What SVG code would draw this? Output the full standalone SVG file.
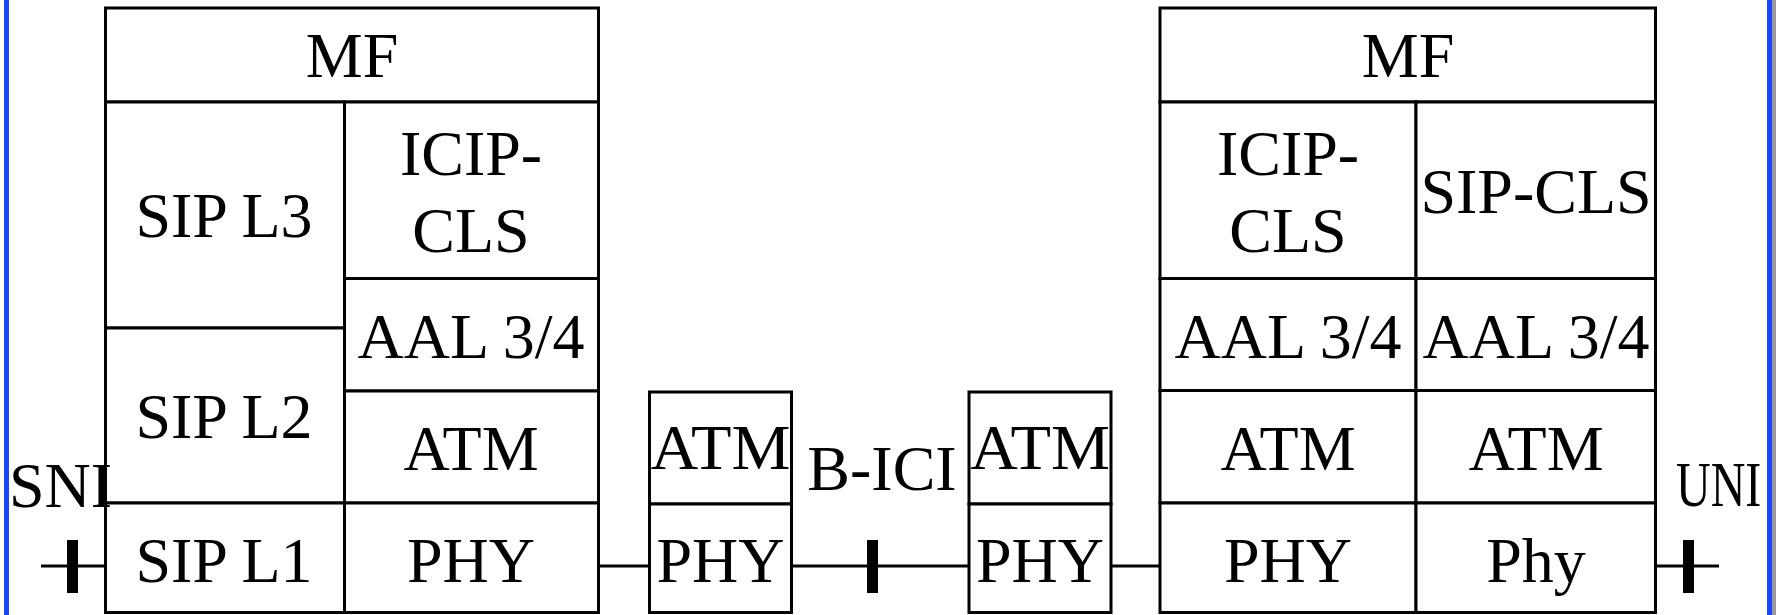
<svg xmlns="http://www.w3.org/2000/svg" width="1776" height="615" viewBox="0 0 1776 615">
<style>
.c{fill:#fff;stroke:#000;stroke-width:3}
.t{font-family:"Liberation Serif","Times New Roman",serif;font-size:64px;fill:#000;text-anchor:middle}
.ts{font-family:"Liberation Serif","Times New Roman",serif;font-size:64px;fill:#000}
.ln{stroke:#000;stroke-width:3;fill:none}
.bar{fill:#000}
</style>
<rect x="0" y="0" width="1776" height="615" fill="#fff"/>
<g id="connectors">
<line class="ln" x1="41" y1="566" x2="105" y2="566"/>
<line class="ln" x1="598" y1="566" x2="649" y2="566"/>
<line class="ln" x1="792" y1="566" x2="969" y2="566"/>
<line class="ln" x1="1111" y1="566" x2="1160" y2="566"/>
<line class="ln" x1="1655" y1="566" x2="1719" y2="566"/>
<rect class="bar" x="67" y="540" width="11" height="53"/>
<rect class="bar" x="867" y="540" width="11" height="53"/>
<rect class="bar" x="1683" y="540" width="11" height="53"/>
</g>
<g id="left-stack">
<g id="l-mf"><rect class="c" x="105.5" y="8" width="493" height="94"/><text class="t" x="352" y="77">MF</text></g>
<g id="l-sipl3"><rect class="c" x="105.5" y="102" width="239" height="226"/><text class="t" x="224" y="237">SIP L3</text></g>
<g id="l-icip"><rect class="c" x="344.5" y="102" width="254" height="176.5"/><text class="t" x="471" y="175">ICIP-</text><text class="t" x="471" y="252">CLS</text></g>
<g id="l-aal"><rect class="c" x="344.5" y="278.5" width="254" height="112.5"/><text class="t" x="471" y="358">AAL 3/4</text></g>
<g id="l-sipl2"><rect class="c" x="105.5" y="328" width="239" height="175"/><text class="t" x="224" y="438">SIP L2</text></g>
<g id="l-atm"><rect class="c" x="344.5" y="391" width="254" height="112"/><text class="t" x="471" y="470">ATM</text></g>
<g id="l-sipl1"><rect class="c" x="105.5" y="503" width="239" height="109.5"/><text class="t" x="224" y="582">SIP L1</text></g>
<g id="l-phy"><rect class="c" x="344.5" y="503" width="254" height="109.5"/><text class="t" x="471" y="582">PHY</text></g>
</g>
<g id="mid1">
<rect class="c" x="649.5" y="392" width="142" height="112"/><text class="t" x="720.5" y="469" textLength="140" lengthAdjust="spacingAndGlyphs">ATM</text>
<rect class="c" x="649.5" y="504" width="142" height="108.5"/><text class="t" x="720.5" y="582">PHY</text>
</g>
<g id="mid2">
<rect class="c" x="969" y="392" width="142" height="112"/><text class="t" x="1040" y="469" textLength="140" lengthAdjust="spacingAndGlyphs">ATM</text>
<rect class="c" x="969" y="504" width="142" height="108.5"/><text class="t" x="1040" y="582">PHY</text>
</g>
<g id="right-stack">
<g id="r-mf"><rect class="c" x="1160" y="8" width="495.5" height="94"/><text class="t" x="1408" y="77">MF</text></g>
<g id="r-icip"><rect class="c" x="1160" y="102" width="256" height="176.5"/><text class="t" x="1288" y="175">ICIP-</text><text class="t" x="1288" y="252">CLS</text></g>
<g id="r-sipcls"><rect class="c" x="1416" y="102" width="239.5" height="176.5"/><text class="t" x="1536" y="213">SIP-CLS</text></g>
<g id="r-aal1"><rect class="c" x="1160" y="278.5" width="256" height="112"/><text class="t" x="1288" y="358">AAL 3/4</text></g>
<g id="r-aal2"><rect class="c" x="1416" y="278.5" width="239.5" height="112"/><text class="t" x="1536" y="358">AAL 3/4</text></g>
<g id="r-atm1"><rect class="c" x="1160" y="390.5" width="256" height="112.5"/><text class="t" x="1288" y="470">ATM</text></g>
<g id="r-atm2"><rect class="c" x="1416" y="390.5" width="239.5" height="112.5"/><text class="t" x="1536" y="470">ATM</text></g>
<g id="r-phy1"><rect class="c" x="1160" y="503" width="256" height="109.5"/><text class="t" x="1288" y="582">PHY</text></g>
<g id="r-phy2"><rect class="c" x="1416" y="503" width="239.5" height="109.5"/><text class="t" x="1536" y="582">Phy</text></g>
</g>
<g id="labels">
<text class="ts" x="9" y="507">SNI</text>
<text class="t" x="882" y="490">B-ICI</text>
<text class="ts" transform="translate(1676,506) scale(0.75,1)" x="0" y="0">UNI</text>
</g>
<g id="frame">
<rect x="4" y="0" width="5" height="615" fill="#1a44ff"/>
<rect x="1767" y="0" width="5" height="615" fill="#1a44ff"/>
<rect x="1772" y="0" width="4" height="615" fill="#9a9a9a"/>
</g>
</svg>
